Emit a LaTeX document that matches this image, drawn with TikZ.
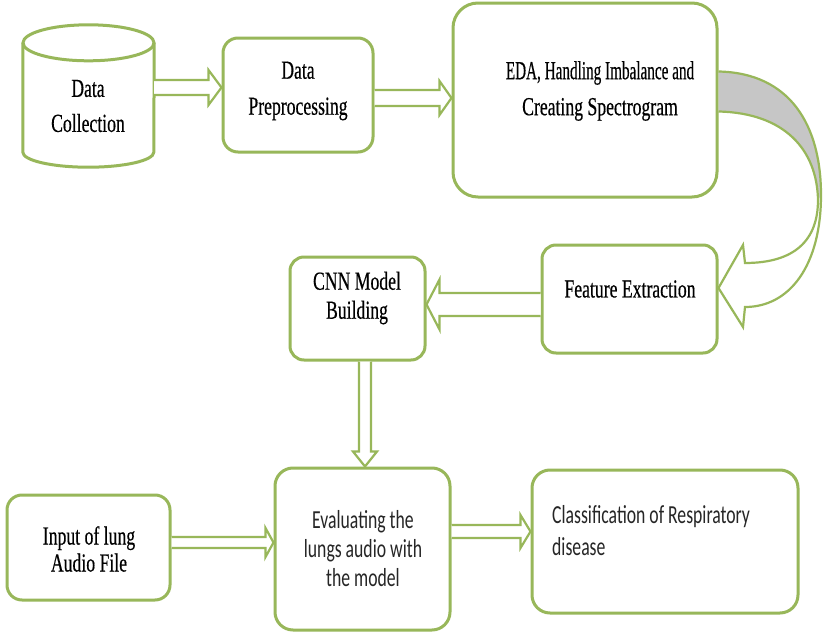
\documentclass[tikz,border=0pt]{standalone}
\usepackage{fontspec}
\usepackage{graphicx}
\setmainfont{Liberation Serif}[FakeStretch=0.68,FakeBold=0.4]
\newfontfamily\sansc{Carlito}[FakeStretch=0.68]
\usetikzlibrary{calc}
\definecolor{ogreen}{RGB}{152,183,90}
\newcommand\hblk[6]{%
  \path (0,#3) coordinate (tmpy);
  \draw[blk] let \p1=(#1 |- tmpy), \p2=(#2 |- tmpy) in
   (\x1,\y1+#4pt) -- (\x2+#6pt,\y1+#4pt) -- (\x2+#6pt,\y1+#5pt) -- (\x2,\y1)
   -- (\x2+#6pt,\y1-#5pt) -- (\x2+#6pt,\y1-#4pt) -- (\x1,\y1-#4pt);}
\tikzset{
  box/.style={draw=ogreen, line width=3pt, fill=white, inner sep=0pt},
  cylline/.style={draw=ogreen, line width=3pt},
  blk/.style={draw=ogreen, line width=2.2pt, fill=white, line join=miter},
  txt/.style={inner sep=0pt, align=center, text=black},
  stxt/.style={inner sep=0pt, text=black!85, font=\sansc\fontsize{26}{29}\selectfont},
}
\begin{document}
\begin{tikzpicture}[x=1pt,y=-1pt]
\useasboundingbox[fill=white] (0,0) rectangle (823,632);

% boxes
\node[inner sep=0pt, minimum width=131, minimum height=142] (dc) at (88.5,96) {};
\draw[cylline] ($(dc.north west)+(0,18)$) -- ($(dc.south west)+(0,-15)$)
   arc[start angle=180, end angle=0, x radius=65.5, y radius=15]
   -- ($(dc.north east)+(0,18)$);
\draw[cylline] ($(dc.north)+(0,18)$) ellipse[x radius=65.5, y radius=18];

\node[box, rounded corners=15pt, minimum width=150, minimum height=114] (pre) at (298,95) {};
\node[box, rounded corners=25pt, minimum width=264, minimum height=194] (eda) at (585,100) {};
\node[box, rounded corners=14pt, minimum width=175, minimum height=108] (fe) at (629.5,299) {};
\node[box, rounded corners=14pt, minimum width=135, minimum height=103] (cnn) at (357.5,308.5) {};
\node[box, rounded corners=15pt, minimum width=163, minimum height=105] (inp) at (88.5,547.5) {};
\node[box, rounded corners=18pt, minimum width=175, minimum height=162] (eval) at (362.5,549) {};
\node[box, rounded corners=18pt, minimum width=266, minimum height=143] (cls) at (665,541.5) {};

% texts
\node[txt, font=\fontsize{26}{35}\selectfont] (tdc) at (88,106) {Data\\Collection};
\node[txt, font=\fontsize{26}{36}\selectfont] (tpre) at (298,91) {Data\\Preprocessing};
\node[txt, font=\fontsize{26}{36}\selectfont] (teda) at (600,91) {\scalebox{0.86}[1]{EDA, Handling Imbalance and}\\Creating Spectrogram};
\node[txt, font=\fontsize{26}{26}\selectfont] (tfe) at (630,289) {Feature Extraction};
\node[txt, font=\fontsize{26}{29}\selectfont] (tcnn) at (357,298) {CNN Model\\Building};
\node[txt, font=\fontsize{26}{27}\selectfont] (tinp) at (89,549) {Input of lung\\Audio File};
\node[stxt, align=center] (teval) at (363,549) {Evaluating the\\lungs audio with\\the model};
\node[stxt, align=left, anchor=west, font=\sansc\fontsize{26}{32}\selectfont] (tcls) at (552,531) {Classification of Respiratory\\disease};

% straight block arrows
\hblk{dc.east}{pre.west}{87.5}{7.5}{17.5}{-13}
\hblk{pre.east}{eda.west}{98}{8}{17}{-12}
\hblk{fe.west}{cnn.east}{304.5}{11.5}{25}{13}
\hblk{inp.east}{eval.west}{542.5}{5.5}{14.5}{-8}
\hblk{eval.east}{cls.west}{531.5}{6.5}{16.5}{-10}
\path (365,0) coordinate (tmpx);
\draw[blk] let \p1=(cnn.south -| tmpx), \p2=(eval.north -| tmpx) in
  (\x1-6pt,\y1) -- (\x1-6pt,\y2+15pt) -- (\x1-12pt,\y2+15pt) -- (\x1,\y2)
  -- (\x1+12pt,\y2+15pt) -- (\x1+6pt,\y2+15pt) -- (\x1+6pt,\y1);

% curved arrow from EDA to Feature Extraction
\coordinate (c1) at ($(eda.north east)+(0,70)$);
\coordinate (c2) at ($(eda.north east)+(0,110)$);
\coordinate (ct) at ($(fe.east)+(0,-11)$);
\fill[gray!45] (c1) .. controls (790,73) and (821,125) .. (821,195)
   -- (818,200) .. controls (817,150) and (785,113) .. (c2) -- cycle;
\draw[blk, fill=none] (c1) .. controls (790,73) and (821,125) .. (821,195)
   .. controls (821,265) and (790,307) .. (745,307) -- (743,327) -- (ct)
   -- (743,245) -- (745,263) .. controls (795,263) and (818,240) .. (818,200)
   .. controls (817,150) and (785,113) .. (c2);
\end{tikzpicture}
\end{document}
